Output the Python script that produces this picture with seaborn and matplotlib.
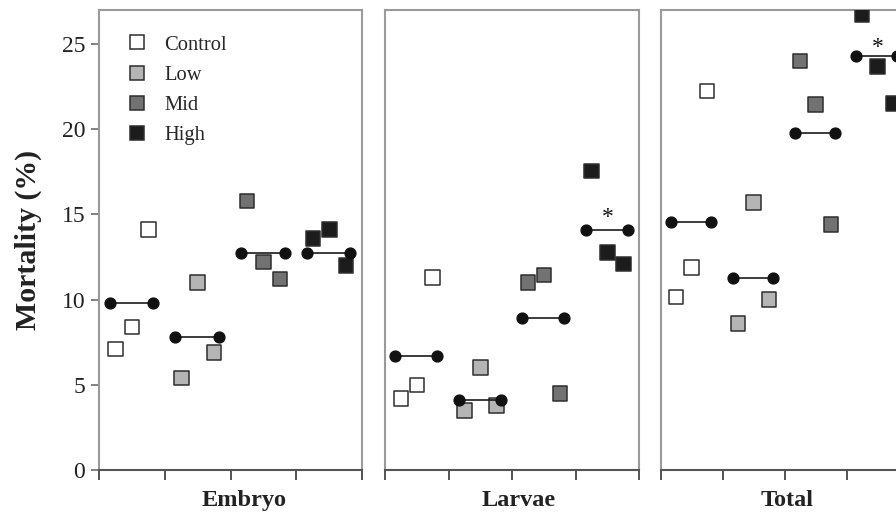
import numpy as np
import pandas as pd
import matplotlib
matplotlib.use("Agg")
import matplotlib.pyplot as plt
import seaborn as sns
from matplotlib.lines import Line2D

# ---- data ----
stages = ["Embryo", "Larvae", "Total"]
treatments = ["Control", "Low", "Mid", "High"]

embryo_reps = [[7.1, 8.4, 14.1], [5.4, 11.0, 6.9], [15.8, 12.2, 11.2], [13.6, 14.1, 12.0]]
larvae_reps = [[4.2, 5.0, 11.3], [3.5, 6.0, 3.8], [11.0, 11.45, 4.5], [17.55, 12.75, 12.1]]
total_reps = [[10.15, 11.9, 22.25], [8.6, 15.7, 10.0], [24.0, 21.45, 14.4], [26.7, 23.7, 21.5]]

embryo_means = [9.83, 7.79, 12.76, 12.76]
larvae_means = [6.69, 4.11, 8.94, 14.11]
total_means = [14.56, 11.26, 19.79, 24.29]

# significance markers: (group index, y)
larvae_sig = [(3, 14.8)]
total_sig = [(3, 24.8)]
embryo_sig = []

yticks = [0, 5, 10, 15, 20, 25]
ylabel = "Mortality (%)"

colors = {"Control": "#ffffff", "Low": "#b5b5b5", "Mid": "#727272", "High": "#1c1c1c"}
edge = "#2e2e2e"
spine_col = "#9a9a9a"

sns.set_theme(style="white")
plt.rcParams["font.family"] = ["Liberation Serif", "DejaVu Serif"]

fig = plt.figure(figsize=(8.96, 5.12), dpi=100)

W, H = 896.0, 512.0
top_px, bot_px = 10.0, 470.0
panels_px = [(99, 362.3), (385, 639.3), (660.7, 908.5)]

rep_offsets = [0.25, 0.5, 0.75]
mean_span = (0.16, 0.82)

all_reps = [embryo_reps, larvae_reps, total_reps]
all_means = [embryo_means, larvae_means, total_means]
all_sig = [embryo_sig, larvae_sig, total_sig]
label_xfrac = [0.55, 0.525, 0.51]

for i, stage in enumerate(stages):
    l, r = panels_px[i]
    ax = fig.add_axes([l / W, (H - bot_px) / H, (r - l) / W, (bot_px - top_px) / H])
    rows = []
    for g, t in enumerate(treatments):
        for k, v in enumerate(all_reps[i][g]):
            rows.append({"x": g + rep_offsets[k], "y": v, "Treatment": t})
    df = pd.DataFrame(rows)
    sns.scatterplot(data=df, x="x", y="y", hue="Treatment", hue_order=treatments,
                    palette=colors, marker="s", s=110, edgecolor=edge, linewidth=1.1,
                    ax=ax, legend=False, zorder=3, clip_on=True)
    for g, m in enumerate(all_means[i]):
        ax.plot([g + mean_span[0], g + mean_span[1]], [m, m], color="#1a1a1a", lw=1.2,
                marker="o", markersize=7.8, markerfacecolor="#111111", markeredgecolor="#111111",
                zorder=4)
    for g, yv in all_sig[i]:
        ax.text(g + 0.5, yv, "*", ha="center", va="center", fontsize=17, color="#111111")

    ax.set_xlim(0, 4)
    ax.set_ylim(0, 27.0)
    ax.set_xticks([0, 1, 2, 3, 4])
    ax.set_xticklabels([])
    ax.tick_params(axis="x", direction="out", length=7, width=1.3, color="#444444", bottom=True)
    if i == 0:
        ax.set_yticks(yticks)
        ax.set_yticklabels([str(v) for v in yticks], fontsize=17, color="#222222")
        ax.tick_params(axis="y", direction="out", length=6, width=1.3, color="#777777", left=True, pad=4)
        ax.set_ylabel(ylabel, fontsize=21.5, fontweight="bold", color="#222222", labelpad=14)
    else:
        ax.set_yticks([])
        ax.set_ylabel("")
    ax.set_xlabel(stage, fontsize=17.5, fontweight="bold", color="#222222")
    ax.xaxis.set_label_coords(label_xfrac[i], -0.043)
    for s in ax.spines.values():
        s.set_color(spine_col)
        s.set_linewidth(1.5)
    ax.spines["bottom"].set_color("#555555")

    if i == 0:
        handles = [Line2D([0], [0], marker="s", linestyle="none", markersize=10.5,
                          markerfacecolor=colors[t], markeredgecolor=edge, markeredgewidth=1.1)
                   for t in treatments]
        ax.legend(handles, treatments, loc="upper left", bbox_to_anchor=(0.075, 0.963),
                  frameon=False, fontsize=14.8, handletextpad=0.8, labelspacing=0.52,
                  handlelength=1.0, borderaxespad=0.0)

fig.savefig("out.png", dpi=100)
